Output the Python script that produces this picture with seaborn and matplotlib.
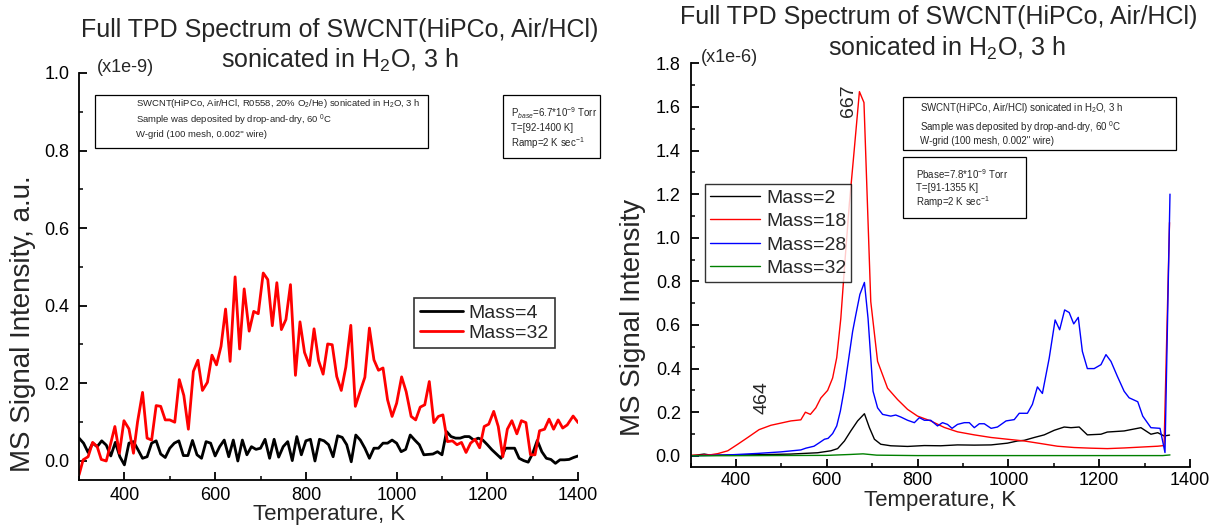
import numpy as np
import pandas as pd
import matplotlib
matplotlib.use("Agg")
import matplotlib.pyplot as plt
from matplotlib.ticker import MultipleLocator
import seaborn as sns

# ---------------- data: left panel (x1e-9) ----------------
temp_m4 = list(range(300, 1410, 10))
mass4 = [0.058, 0.045, 0.021, 0.045, 0.036, 0.051, 0.040, 0.012, 0.047, 0.010,
         -0.011, 0.045, 0.049, 0.028, 0.006, 0.010, 0.045, 0.051, 0.017, 0.008,
         0.032, 0.045, 0.051, 0.013, 0.013, 0.052, 0.015, 0.006, 0.049, 0.045,
         0.012, 0.036, 0.053, 0.010, 0.053, -0.001, 0.053, 0.015, 0.036, 0.029,
         0.032, 0.055, 0.006, 0.055, 0.009, 0.036, 0.049, 0.000, 0.062, 0.015,
         0.051, 0.055, -0.001, 0.055, 0.051, 0.041, 0.010, 0.064, 0.060, 0.041,
         -0.003, 0.066, 0.053, 0.032, 0.006, 0.032, 0.032, 0.045, 0.045, 0.053,
         0.045, 0.023, 0.029, 0.066, 0.053, 0.041, 0.015, 0.016, 0.017, 0.023,
         0.015, 0.075, 0.062, 0.058, 0.058, 0.062, 0.062, 0.053, 0.058, 0.053,
         0.041, 0.028, 0.017, 0.006, 0.032, 0.032, 0.032, 0.006, 0.000, -0.004,
         0.019, 0.052, 0.023, 0.006, 0.003, -0.007, 0.002, 0.002, 0.003, 0.008,
         0.012]
temp_m32 = [300, 309, 320, 330, 340, 349, 360, 370, 379, 389, 399, 410, 420, 429,
            440, 450, 460, 470, 480, 490, 500, 511, 521, 531, 541, 552, 562, 572,
            583, 593, 603, 613, 623, 633, 644, 654, 664, 675, 685, 695, 706, 716,
            726, 736, 746, 756, 766, 777, 787, 797, 808, 818, 828, 838, 848, 858,
            868, 878, 888, 899, 909, 920, 930, 940, 950, 960, 970, 980, 990, 1000,
            1011, 1021, 1032, 1042, 1052, 1062, 1072, 1082, 1092, 1102, 1112, 1123,
            1133, 1143, 1153, 1163, 1173, 1183, 1193, 1203, 1214, 1224, 1234, 1244,
            1254, 1265, 1275, 1285, 1295, 1305, 1315, 1326, 1336, 1346, 1356, 1366,
            1376, 1389, 1400]
mass32 = [-0.037, 0.002, 0.010, 0.047, 0.036, 0.003, -0.001, 0.045, 0.088, 0.019,
          0.103, 0.082, 0.019, 0.100, 0.176, 0.058, 0.053, 0.142, 0.140, 0.105,
          0.105, 0.099, 0.209, 0.168, 0.081, 0.230, 0.259, 0.181, 0.202, 0.272,
          0.247, 0.295, 0.391, 0.256, 0.474, 0.288, 0.443, 0.334, 0.385, 0.379,
          0.484, 0.467, 0.348, 0.459, 0.338, 0.364, 0.454, 0.220, 0.358, 0.279,
          0.245, 0.340, 0.258, 0.223, 0.301, 0.299, 0.217, 0.181, 0.241, 0.349,
          0.140, 0.180, 0.215, 0.342, 0.260, 0.233, 0.239, 0.157, 0.114, 0.148,
          0.216, 0.178, 0.114, 0.105, 0.138, 0.144, 0.204, 0.098, 0.114, 0.118,
          0.049, 0.051, 0.041, 0.047, 0.021, 0.045, 0.055, 0.033, 0.088, 0.094,
          0.127, 0.088, 0.010, 0.081, 0.103, 0.069, 0.103, 0.098, 0.015, 0.015,
          0.077, 0.081, 0.107, 0.081, 0.105, 0.084, 0.092, 0.115, 0.098]

# ---------------- data: right panel (x1e-6) ----------------
temp_r18 = [301, 323, 345, 360, 382, 404, 426, 451, 477, 499, 521, 543, 553, 564,
            576, 587, 602, 613, 622, 631, 640, 650, 660, 672, 682, 697, 712, 734,
            756, 778, 800, 829, 859, 888, 925, 962, 998, 1035, 1072, 1108, 1145,
            1182, 1218, 1255, 1292, 1329, 1343, 1355]
mass18 = [0.003, 0.003, 0.005, 0.010, 0.023, 0.053, 0.084, 0.120, 0.140, 0.150,
          0.160, 0.165, 0.200, 0.190, 0.220, 0.265, 0.300, 0.357, 0.450, 0.630,
          0.890, 1.160, 1.390, 1.670, 1.620, 0.707, 0.433, 0.310, 0.258, 0.213,
          0.182, 0.160, 0.130, 0.110, 0.096, 0.084, 0.076, 0.068, 0.056, 0.044,
          0.038, 0.035, 0.033, 0.036, 0.040, 0.044, 0.047, 1.070]
temp_r28 = [301, 374, 448, 499, 543, 554, 572, 583, 595, 603, 613, 622, 630, 639,
            647, 657, 664, 673, 683, 691, 702, 712, 723, 741, 752, 763, 778, 793,
            804, 815, 829, 844, 855, 866, 876, 888, 903, 914, 925, 936, 947, 962,
            976, 995, 1013, 1024, 1042, 1053, 1064, 1075, 1090, 1103, 1113, 1124,
            1134, 1144, 1154, 1163, 1174, 1189, 1204, 1215, 1226, 1240, 1255, 1266,
            1285, 1296, 1314, 1334, 1345, 1356]
mass28 = [0.000, 0.003, 0.011, 0.018, 0.027, 0.035, 0.044, 0.059, 0.076, 0.080,
          0.102, 0.137, 0.205, 0.310, 0.426, 0.570, 0.646, 0.740, 0.795, 0.630,
          0.296, 0.220, 0.190, 0.182, 0.187, 0.178, 0.163, 0.152, 0.175, 0.163,
          0.163, 0.137, 0.152, 0.144, 0.126, 0.144, 0.152, 0.152, 0.129, 0.147,
          0.147, 0.126, 0.132, 0.160, 0.166, 0.195, 0.195, 0.236, 0.316, 0.286,
          0.448, 0.623, 0.578, 0.669, 0.657, 0.605, 0.635, 0.479, 0.400, 0.400,
          0.418, 0.464, 0.433, 0.365, 0.296, 0.266, 0.248, 0.182, 0.129, 0.126,
          0.015, 1.200]
temp_r2 = [301, 330, 345, 448, 521, 580, 609, 624, 639, 653, 668, 683, 694, 705,
           719, 741, 778, 815, 851, 888, 925, 962, 998, 1020, 1035, 1057, 1079,
           1101, 1123, 1138, 1156, 1174, 1204, 1218, 1255, 1292, 1314, 1329, 1343,
           1355]
mass2 = [0.000, 0.008, 0.003, 0.005, 0.008, 0.014, 0.023, 0.033, 0.068, 0.114,
         0.160, 0.193, 0.129, 0.076, 0.053, 0.046, 0.043, 0.047, 0.046, 0.050,
         0.049, 0.050, 0.058, 0.068, 0.071, 0.084, 0.096, 0.117, 0.132, 0.129,
         0.132, 0.096, 0.099, 0.109, 0.114, 0.129, 0.099, 0.106, 0.091, 0.095]
temp_r32 = [301, 600, 650, 680, 710, 800, 1000, 1340, 1356]
mass32_r = [0.000, 0.002, 0.006, 0.009, 0.003, 0.001, 0.001, 0.001, 0.004]

left_labels = ["Mass=4", "Mass=32"]
right_labels = ["Mass=2", "Mass=18", "Mass=28", "Mass=32"]
x_ticks = [400, 600, 800, 1000, 1200, 1400]

# ---------------- style ----------------
sns.set_theme(style="ticks")
plt.rcParams["font.family"] = ["Liberation Sans", "DejaVu Sans"]
plt.rcParams["mathtext.fontset"] = "custom"
plt.rcParams["mathtext.rm"] = "Liberation Sans"
plt.rcParams["mathtext.it"] = "Liberation Sans:italic"
plt.rcParams["mathtext.bf"] = "Liberation Sans:bold"
plt.rcParams["axes.linewidth"] = 1.3
plt.rcParams["xtick.major.width"] = 1.3
plt.rcParams["ytick.major.width"] = 1.3
plt.rcParams["xtick.minor.width"] = 1.1
plt.rcParams["ytick.minor.width"] = 1.1

fig = plt.figure(figsize=(12.14, 5.27), dpi=100)
axL = fig.add_axes([0.0651, 0.0892, 0.4111, 0.7723])
axR = fig.add_axes([0.5688, 0.1144, 0.4114, 0.7655])

dfL = pd.concat([
    pd.DataFrame({"T": temp_m4, "S": mass4, "Mass": left_labels[0]}),
    pd.DataFrame({"T": temp_m32, "S": mass32, "Mass": left_labels[1]}),
])
sns.lineplot(data=dfL, x="T", y="S", hue="Mass", estimator=None,
             palette={left_labels[0]: "black", left_labels[1]: "#ff0000"},
             linewidth=2.0, ax=axL)

dfR = pd.concat([
    pd.DataFrame({"T": temp_r2, "S": mass2, "Mass": right_labels[0]}),
    pd.DataFrame({"T": temp_r18, "S": mass18, "Mass": right_labels[1]}),
    pd.DataFrame({"T": temp_r28, "S": mass28, "Mass": right_labels[2]}),
    pd.DataFrame({"T": temp_r32, "S": mass32_r, "Mass": right_labels[3]}),
])
sns.lineplot(data=dfR, x="T", y="S", hue="Mass", estimator=None,
             palette={right_labels[0]: "black", right_labels[1]: "#ff0000",
                      right_labels[2]: "#0000ff", right_labels[3]: "#008000"},
             linewidth=1.0, ax=axR)

for ax, ymax, xpad in [(axL, 1.0, 5), (axR, 1.8, 4)]:
    ax.set_xlim(300, 1400)
    ax.set_ylim(-0.05, ymax)
    ax.set_xticks(x_ticks)
    ax.xaxis.set_minor_locator(MultipleLocator(100))
    ax.yaxis.set_major_locator(MultipleLocator(0.2))
    ax.yaxis.set_minor_locator(MultipleLocator(0.1))
    ax.yaxis.set_major_formatter(matplotlib.ticker.FormatStrFormatter("%.1f"))
    ax.tick_params(which="major", direction="in", length=5.8, labelsize=13,
                   color="black", labelcolor="black")
    ax.tick_params(which="minor", direction="in", length=3, color="black")
    ax.tick_params(axis="x", which="major", pad=xpad)
    ax.tick_params(axis="y", which="major", pad=7)
    for s in ["top", "right"]:
        ax.spines[s].set_visible(False)
    for s in ["left", "bottom"]:
        ax.spines[s].set_color("black")
    ax.set_xlabel("Temperature, K", fontsize=16)
    ax.set_facecolor("white")

axL.set_ylabel("MS Signal Intensity, a.u.", fontsize=20)
axR.set_ylabel("MS Signal Intensity", fontsize=20)
axL.yaxis.set_label_coords(-0.086, 0.383)
axR.yaxis.set_label_coords(-0.089, 0.371)
axL.xaxis.set_label_coords(0.5, -0.060)
axR.xaxis.set_label_coords(0.5, -0.057)

axL.text(0.035, 1.0 + 5 / 407, "(x1e-9)", transform=axL.transAxes,
         fontsize=13, ha="left", va="center")
axR.text(0.02, 1.0 + 6 / 403, "(x1e-6)", transform=axR.transAxes,
         fontsize=13, ha="left", va="center")

# legends
legL = axL.legend(loc="upper left", bbox_to_anchor=(0.672, 0.447), fontsize=14,
                  frameon=True, fancybox=False, edgecolor="black",
                  handlelength=2.2, handletextpad=0.3, borderpad=0.3,
                  labelspacing=0.15, borderaxespad=0)
legL.get_frame().set_linewidth(1.2)
legR = axR.legend(loc="upper left", bbox_to_anchor=(0.029, 0.70), fontsize=14,
                  frameon=True, fancybox=False, edgecolor="black",
                  handlelength=2.6, handletextpad=0.3, borderpad=0.25,
                  labelspacing=0.3, borderaxespad=0)
legR.get_frame().set_linewidth(1.0)

# title texts
fig.text(0.280, 0.944, "Full TPD Spectrum of SWCNT(HiPCo, Air/HCl)",
         ha="center", va="center", fontsize=18)
fig.text(0.280, 0.886, r"sonicated in H$_2$O, 3 h", ha="center", va="center",
         fontsize=18)
fig.text(0.7735, 0.968, "Full TPD Spectrum of SWCNT(HiPCo, Air/HCl)",
         ha="center", va="center", fontsize=18)
fig.text(0.7800, 0.909, r"sonicated in H$_2$O, 3 h", ha="center", va="center",
         fontsize=18)

# info boxes (figure pixel coords converted)
W, H = 1214.0, 527.0
def box(x0, y0, x1, y1):
    fig.patches.append(matplotlib.patches.Rectangle(
        (x0 / W, 1 - y1 / H), (x1 - x0) / W, (y1 - y0) / H,
        transform=fig.transFigure, fill=False, edgecolor="black",
        linewidth=0.9, zorder=5))

def txt(x, y, s, fs=7):
    fig.text(x / W, 1 - y / H, s, ha="left", va="center", fontsize=fs)

box(95, 95, 428, 148)
txt(136, 104, r"SWCNT(HiPCo, Air/HCl, R0558, 20% O$_2$/He) sonicated in H$_2$O, 3 h",
    fs=6.8)
txt(136, 120, r"Sample was deposited by drop-and-dry, 60 $^0$C", fs=6.8)
txt(136, 135, "W-grid (100 mesh, 0.002\" wire)", fs=6.8)
box(503, 95, 600, 158)
txt(511, 113, r"P$_{base}$=6.7*10$^{-9}$ Torr")
txt(511, 128, "T=[92-1400 K]")
txt(511, 143, r"Ramp=2 K sec$^{-1}$")

box(903, 97, 1176, 150)
txt(920, 108, r"SWCNT(HiPCo, Air/HCl) sonicated in H$_2$O, 3 h")
txt(920, 127, r"Sample was deposited by drop-and-dry, 60 $^0$C")
txt(920, 141, "W-grid (100 mesh, 0.002\" wire)")
box(903, 157, 1026, 218)
txt(916, 174, r"Pbase=7.8*10$^{-9}$ Torr")
txt(916, 188, "T=[91-1355 K]")
txt(916, 202, r"Ramp=2 K sec$^{-1}$")

# peak labels
axR.text(648, 1.63, "667", rotation=90, ha="center", va="center", fontsize=14)
axR.text(458, 0.265, "464", rotation=90, ha="center", va="center", fontsize=14)

fig.savefig("out.png", dpi=100, facecolor="white")
